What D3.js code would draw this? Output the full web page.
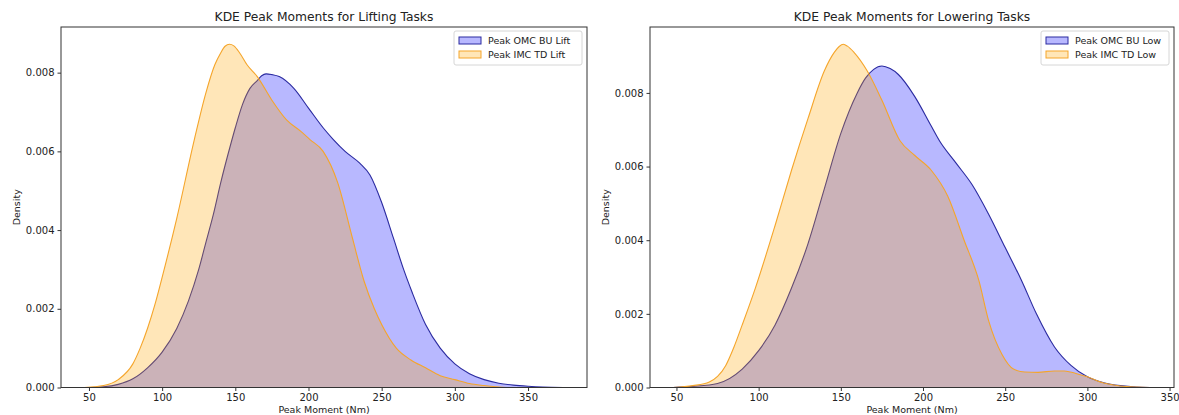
<!DOCTYPE html>
<html lang="en">
<head>
    <meta charset="UTF-8">
    <title>KDE Peak Moments</title>
    <script src="https://d3js.org/d3.v7.min.js"></script>
    <style>
        body { margin: 0; background: #fff; }
        text { font-family: "DejaVu Sans", sans-serif; fill: #222; }
    </style>
</head>
<body>
    <div id="output"></div>

    <script>
        // Lifting: Peak OMC BU Lift (blue)
        var liftOmcX = [47, 60, 70, 80, 90, 100, 110, 118, 125, 130, 135, 140, 147, 150, 155, 160, 165, 168, 171, 175, 180, 190, 200, 210, 217, 225, 235, 242, 250, 258, 265, 271, 280, 290, 300, 310, 320, 330, 340, 350, 360, 374];
        var liftOmcY = [0, 0.00002, 0.00008, 0.00022, 0.0005, 0.0009, 0.0015, 0.0022, 0.0030, 0.0037, 0.0044, 0.0052, 0.0062, 0.0066, 0.0072, 0.0076, 0.0078, 0.00792, 0.00797, 0.00795, 0.0079, 0.0076, 0.0071, 0.0066, 0.0063, 0.0060, 0.0057, 0.0054, 0.0047, 0.0038, 0.0030, 0.0024, 0.0016, 0.0010, 0.0006, 0.00035, 0.0002, 0.00011, 0.00006, 0.00003, 0.00001, 0];
        // Lifting: Peak IMC TD Lift (orange)
        var liftImcX = [47, 60, 70, 80, 85, 90, 95, 100, 110, 122, 130, 136, 140, 143, 146, 149, 153, 158, 165, 175, 185, 195, 201, 210, 220, 230, 238, 245, 250, 260, 270, 280, 290, 300, 310, 320, 335];
        var liftImcY = [0, 0.00005, 0.0002, 0.0006, 0.0010, 0.0015, 0.0021, 0.0028, 0.0043, 0.0063, 0.0075, 0.0082, 0.0085, 0.00867, 0.00872, 0.00868, 0.0085, 0.0082, 0.0079, 0.0073, 0.0068, 0.0065, 0.0063, 0.0060, 0.0052, 0.0038, 0.0027, 0.0020, 0.0016, 0.0010, 0.0007, 0.0005, 0.0003, 0.0002, 0.0001, 0.00005, 0];

        // Lowering: Peak OMC BU Low (blue)
        var lowOmcX = [48, 60, 75, 90, 100, 110, 120, 130, 140, 150, 160, 165, 170, 175, 180, 185, 195, 205, 210, 220, 230, 240, 250, 260, 269, 280, 290, 300, 310, 320, 330, 338];
        var lowOmcY = [0, 0.00003, 0.00011, 0.0005, 0.0010, 0.0017, 0.0027, 0.0039, 0.0054, 0.0069, 0.0080, 0.0084, 0.00864, 0.00873, 0.00866, 0.0085, 0.0079, 0.0071, 0.0067, 0.0061, 0.0055, 0.0047, 0.0038, 0.0029, 0.0020, 0.0011, 0.0006, 0.00029, 0.00013, 0.00005, 0.00001, 0];
        // Lowering: Peak IMC TD Low (orange)
        var lowImcX = [48, 60, 70, 75, 80, 85, 90, 98, 110, 120, 130, 140, 146, 149, 151.5, 154, 158, 166, 175, 186, 195, 205, 215, 225, 234, 240, 248, 255, 262, 270, 280, 286, 293, 300, 310, 320, 330, 338];
        var lowImcY = [0, 0.00005, 0.00015, 0.0003, 0.0006, 0.0011, 0.0017, 0.0027, 0.0044, 0.0059, 0.0073, 0.0086, 0.0091, 0.00926, 0.00932, 0.00927, 0.0091, 0.0086, 0.0078, 0.0067, 0.0063, 0.0059, 0.0052, 0.0040, 0.0029, 0.0018, 0.0009, 0.0005, 0.00042, 0.00041, 0.00045, 0.00045, 0.00038, 0.00029, 0.00012, 0.00004, 0.00001, 0];

        var xTicks = [50, 100, 150, 200, 250, 300, 350];
        var yTicks = [0, 0.002, 0.004, 0.006, 0.008];

        var panels = [
            {
                title: "KDE Peak Moments for Lifting Tasks",
                left: 61, right: 587, xDomain: [30.9, 390.3], yMax: 0.00916,
                series: [
                    { name: "Peak OMC BU Lift", xs: liftOmcX, ys: liftOmcY, fill: "rgba(0,0,255,0.28)", stroke: "#2a2aa0" },
                    { name: "Peak IMC TD Lift", xs: liftImcX, ys: liftImcY, fill: "rgba(255,165,0,0.28)", stroke: "#f5a52a" }
                ]
            },
            {
                title: "KDE Peak Moments for Lowering Tasks",
                left: 650, right: 1174, xDomain: [33.9, 352.7], yMax: 0.00979,
                series: [
                    { name: "Peak OMC BU Low", xs: lowOmcX, ys: lowOmcY, fill: "rgba(0,0,255,0.28)", stroke: "#2a2aa0" },
                    { name: "Peak IMC TD Low", xs: lowImcX, ys: lowImcY, fill: "rgba(255,165,0,0.28)", stroke: "#f5a52a" }
                ]
            }
        ];

        var width = 1179, height = 415;
        var plotTop = 27, plotBottom = 387.5;

        var svg = d3.select("#output").append("svg")
            .attr("width", width)
            .attr("height", height);

        panels.forEach(function(p) {
            var x = d3.scaleLinear().domain(p.xDomain).range([p.left, p.right]);
            var y = d3.scaleLinear().domain([0, p.yMax]).range([plotBottom, plotTop]);

            var g = svg.append("g");

            // Filled KDE areas
            p.series.forEach(function(s) {
                var pts = s.xs.map(function(v, i) { return [v, s.ys[i]]; });
                var area = d3.area()
                    .x(function(d) { return x(d[0]); })
                    .y0(y(0))
                    .y1(function(d) { return y(d[1]); })
                    .curve(d3.curveMonotoneX);
                var line = d3.line()
                    .x(function(d) { return x(d[0]); })
                    .y(function(d) { return y(d[1]); })
                    .curve(d3.curveMonotoneX);
                g.append("path").attr("d", area(pts)).attr("fill", s.fill).attr("stroke", "none");
                g.append("path").attr("d", line(pts)).attr("fill", "none")
                    .attr("stroke", s.stroke).attr("stroke-width", 1.1);
            });

            // Axes
            var xAxis = d3.axisBottom(x).tickValues(xTicks).tickSize(3.5).tickPadding(3);
            var yAxis = d3.axisLeft(y).tickValues(yTicks).tickSize(3.5).tickPadding(3)
                .tickFormat(d3.format(".3f"));

            var gx = svg.append("g").attr("transform", "translate(0," + plotBottom + ")").call(xAxis);
            var gy = svg.append("g").attr("transform", "translate(" + p.left + ",0)").call(yAxis);
            [gx, gy].forEach(function(ax) {
                ax.select(".domain").remove();
                ax.selectAll("line").attr("stroke", "#333");
                ax.selectAll("text").style("font-family", "DejaVu Sans, sans-serif")
                    .style("font-size", "10px").attr("fill", "#222");
            });

            // Frame
            svg.append("rect")
                .attr("x", p.left).attr("y", plotTop)
                .attr("width", p.right - p.left).attr("height", plotBottom - plotTop)
                .attr("fill", "none").attr("stroke", "#333").attr("stroke-width", 1);

            // Title
            svg.append("text")
                .attr("x", (p.left + p.right) / 2).attr("y", plotTop - 6)
                .attr("text-anchor", "middle")
                .style("font-size", "12.3px")
                .text(p.title);

            // Axis labels
            svg.append("text")
                .attr("x", (p.left + p.right) / 2).attr("y", 413)
                .attr("text-anchor", "middle")
                .style("font-size", "9.5px")
                .text("Peak Moment (Nm)");
            svg.append("text")
                .attr("transform", "translate(" + (p.left - 41) + "," + ((plotTop + plotBottom) / 2) + ") rotate(-90)")
                .attr("text-anchor", "middle")
                .style("font-size", "9.5px")
                .text("Density");

            // Legend
            var lgW = 128, lgH = 34;
            var lg = svg.append("g").attr("transform", "translate(" + (p.right - lgW - 5) + "," + (plotTop + 4) + ")");
            lg.append("rect").attr("width", lgW).attr("height", lgH).attr("rx", 2)
                .attr("fill", "rgba(255,255,255,0.8)").attr("stroke", "#d6d6d6");
            p.series.forEach(function(s, i) {
                var ry = 6 + i * 14;
                lg.append("rect").attr("x", 5).attr("y", ry).attr("width", 22).attr("height", 7)
                    .attr("fill", s.fill).attr("stroke", s.stroke).attr("stroke-width", 1);
                lg.append("text").attr("x", 34).attr("y", ry + 7)
                    .style("font-size", "9.5px")
                    .text(s.name);
            });
        });
    </script>
</body>
</html>
